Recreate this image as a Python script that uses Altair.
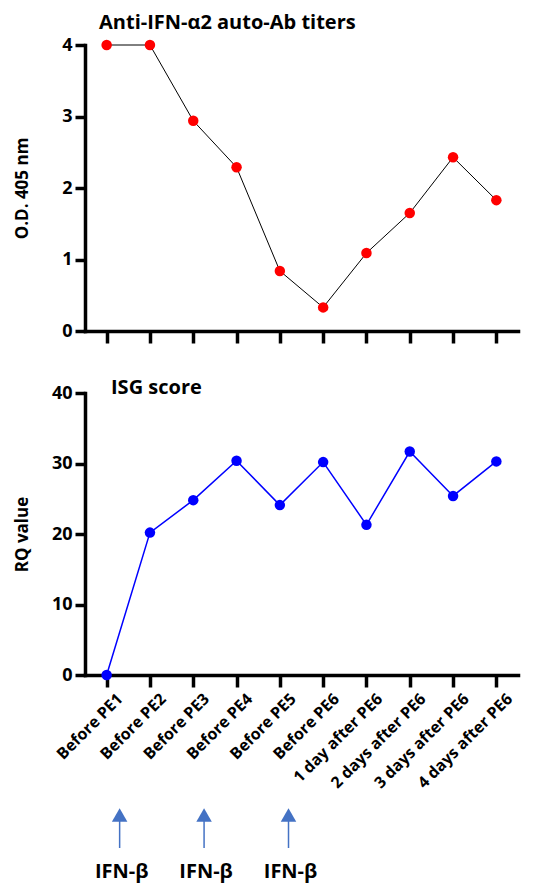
import altair as alt
import pandas as pd

timepoints = ["Before PE1", "Before PE2", "Before PE3", "Before PE4", "Before PE5",
              "Before PE6", "1 day after PE6", "2 days after PE6", "3 days after PE6",
              "4 days after PE6"]
od405 = [4.0, 4.0, 2.94, 2.29, 0.84, 0.33, 1.09, 1.65, 2.43, 1.83]
rq_value = [0.0, 20.2, 24.8, 30.4, 24.1, 30.2, 21.3, 31.7, 25.4, 30.3]
treatment_pos = [0.3, 2.25, 4.2]
treatment_label = ["IFN-β", "IFN-β", "IFN-β"]

df = pd.DataFrame({"t": timepoints, "od": od405, "rq": rq_value})
arrows_df = pd.DataFrame({"pos": treatment_pos, "label": treatment_label})

FONT = "'Open Sans', 'Noto Sans', sans-serif"
W = 433

# ---------- top panel ----------
top_base = alt.Chart(df).encode(
    x=alt.X("t:N", sort=timepoints,
            axis=alt.Axis(labels=False, title=None, tickSize=12)),
    y=alt.Y("od:Q", scale=alt.Scale(domain=[0, 4], nice=False),
            axis=alt.Axis(values=[0, 1, 2, 3, 4], title="O.D. 405 nm",
                          titleX=-58, titleBaseline="alphabetic", tickSize=10,
                          labelPadding=3, labelFontSize=18, titleFontSize=17)),
)
top = alt.layer(
    top_base.mark_line(color="black", strokeWidth=1),
    top_base.mark_circle(color="#FF0000", size=110, opacity=1),
).properties(
    width=W, height=286,
    title=alt.TitleParams("Anti-IFN-α2 auto-Ab titers", anchor="start", frame="group",
                          dx=14, fontSize=20, font=FONT, fontWeight="bold",
                          color="black", offset=3),
)

# ---------- bottom panel ----------
bot_base = alt.Chart(df).encode(
    x=alt.X("t:N", sort=timepoints,
            axis=alt.Axis(title=None, tickSize=12, labelAngle=-45, labelAlign="right",
                          labelBaseline="middle", labelFontSize=16, labelPadding=9,
                          labelOffset=13)),
    y=alt.Y("rq:Q", scale=alt.Scale(domain=[0, 40], nice=False),
            axis=alt.Axis(values=[0, 10, 20, 30, 40], title="RQ value",
                          titleX=-58, titleBaseline="alphabetic", tickSize=10,
                          labelPadding=3, labelFontSize=18, titleFontSize=17)),
)
bottom = alt.layer(
    bot_base.mark_line(color="#0000FF", strokeWidth=1.5),
    bot_base.mark_circle(color="#0000FF", size=110, opacity=1),
).properties(
    width=W, height=282,
    title=alt.TitleParams("ISG score", anchor="start", frame="group", dx=26, dy=14,
                          fontSize=20, font=FONT, fontWeight="bold", color="black",
                          offset=0),
)

# ---------- treatment arrows ----------
ax = alt.X("pos:Q", scale=alt.Scale(domain=[-0.5, 9.5], nice=False, zero=False), axis=None)
arr_base = alt.Chart(arrows_df).encode(x=ax)
arrows = alt.layer(
    arr_base.mark_rule(color="#4472C4", strokeWidth=1.5).encode(y=alt.value(16), y2=alt.value(47)),
    arr_base.mark_point(shape="triangle-up", filled=True, color="#4472C4", size=240,
                        opacity=1).encode(y=alt.value(14)),
    arr_base.mark_text(font=FONT, fontWeight="bold", fontSize=20, color="black",
                       baseline="middle", align="center", dx=2).encode(
        y=alt.value(71), text="label:N"),
).properties(width=W, height=82)

chart = alt.vconcat(
    alt.vconcat(top, bottom, spacing=33),
    arrows, spacing=10,
).properties(
    padding={"left": 5, "top": 5, "right": 5, "bottom": 0},
).configure_view(stroke=None).configure_axis(
    domainColor="black", domainWidth=3.5, tickColor="black", tickWidth=3.5,
    labelFont=FONT, labelFontWeight="bold", labelColor="black",
    titleFont=FONT, titleFontWeight="bold", titleColor="black",
    grid=False, domainCap="square",
)

chart.save("out.html", embed_options={"renderer": "svg", "actions": False})
